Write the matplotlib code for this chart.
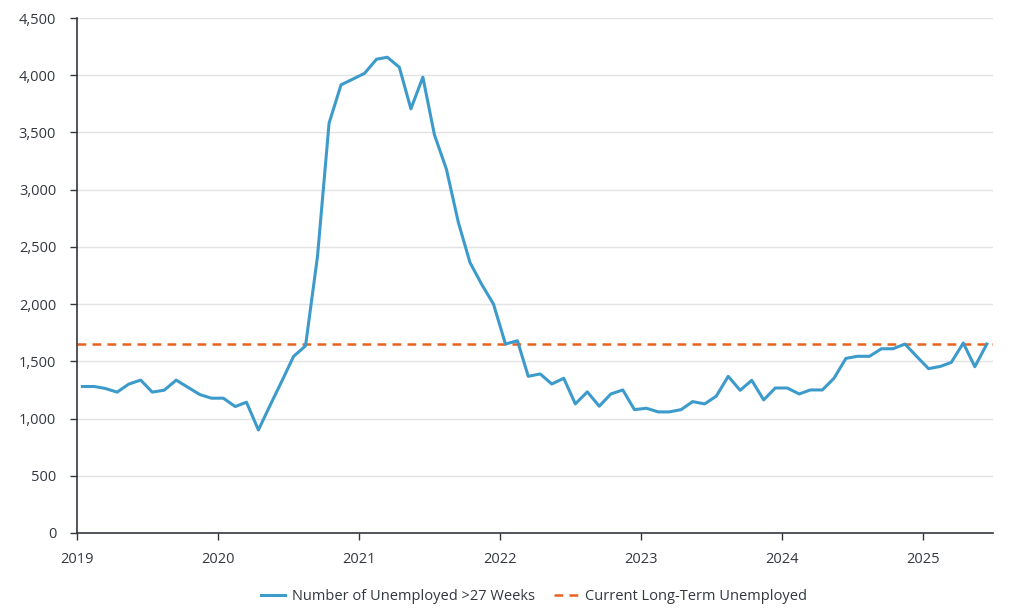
import numpy as np
import pandas as pd
import matplotlib
matplotlib.use("Agg")
import matplotlib.pyplot as plt
import matplotlib.dates as mdates
from matplotlib.ticker import FuncFormatter

# monthly, Jan 2019 .. Jun 2025 (thousands), plotted mid-month
dates = pd.date_range("2019-01-01", periods=78, freq="MS") + pd.Timedelta(days=14)
unemployed_27wk = [
    1280, 1280, 1263, 1231, 1301, 1336, 1231, 1248, 1336, 1274, 1210, 1178,   # 2019
    1178, 1105, 1143, 900, 1114, 1329, 1543, 1635, 2416, 3581, 3916, 3965,    # 2020
    4017, 4140, 4157, 4070, 3706, 3983, 3479, 3179, 2713, 2364, 2169, 2000,   # 2021
    1651, 1680, 1369, 1390, 1302, 1352, 1128, 1233, 1108, 1215, 1250, 1078,   # 2022
    1090, 1058, 1058, 1078, 1148, 1128, 1195, 1369, 1247, 1334, 1163, 1267,   # 2023
    1267, 1215, 1250, 1250, 1352, 1526, 1544, 1544, 1610, 1610, 1651, 1544,   # 2024
    1436, 1456, 1491, 1660, 1453, 1651,                                       # 2025
]
current_lt = 1650

BLUE = "#3D9BCB"
ORANGE = "#E8621E"
DARK = "#333740"

plt.rcParams.update({"font.family": ["Open Sans", "DejaVu Sans"], "font.size": 10.5})
fig = plt.figure(figsize=(10.24, 6.10), dpi=100)
ax = fig.add_axes([77/1024, 1-533/610, (993-77)/1024, (533-18)/610])

ax.plot(dates, unemployed_27wk, color=BLUE, lw=2.2, label="Number of Unemployed >27 Weeks", zorder=3)
ax.axhline(current_lt, color=ORANGE, lw=1.8, ls=(0, (3.5, 2.5)), label="Current Long-Term Unemployed", zorder=2)

ax.set_xlim(pd.Timestamp("2019-01-01"), pd.Timestamp("2025-07-01"))
ax.set_ylim(0, 4500)
ax.set_yticks(np.arange(0, 4501, 500))
ax.yaxis.set_major_formatter(FuncFormatter(lambda v, p: f"{int(v):,}"))
ax.xaxis.set_major_locator(mdates.YearLocator())
ax.xaxis.set_major_formatter(mdates.DateFormatter("%Y"))

ax.grid(axis="y", color="#E3E3E3", lw=1)
ax.set_axisbelow(True)
for s in ["top", "right"]:
    ax.spines[s].set_visible(False)
for s in ["left", "bottom"]:
    ax.spines[s].set_color(DARK)
    ax.spines[s].set_linewidth(1.2)
ax.tick_params(colors=DARK, labelcolor=DARK, length=5, width=1, labelsize=10.5)
ax.tick_params(axis="y", pad=10)
ax.tick_params(axis="x", pad=9)

fig.legend(loc="center", bbox_to_anchor=(534/1024, 1-597/610), ncol=2, frameon=False,
           handlelength=1.65, handletextpad=0.5, columnspacing=1.27, fontsize=10.5, labelcolor=DARK)

fig.savefig("out.png", dpi=100, facecolor="white")
